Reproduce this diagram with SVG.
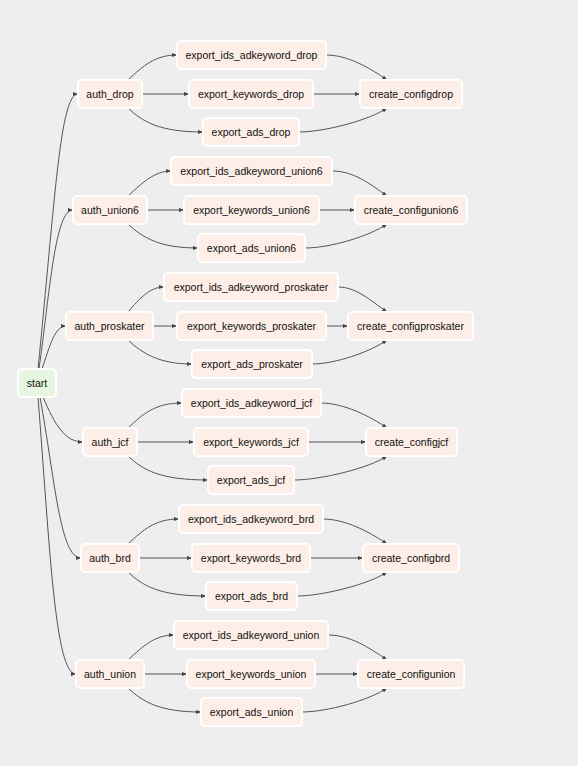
<svg xmlns="http://www.w3.org/2000/svg" width="578" height="766" viewBox="0 0 578 766">
<style>
.n rect{fill:#fdeee7;stroke:#ffffff;stroke-width:2}
.s rect{fill:#e6f6e0;stroke:#ffffff;stroke-width:2}
text{font-family:"Liberation Sans",Arial,sans-serif;font-size:10.5px;fill:#111;text-anchor:middle;dominant-baseline:central}
.e path{fill:none;stroke:#555;stroke-width:1;marker-end:url(#ah)}
</style>
<defs>
<marker id="ah" markerWidth="5" markerHeight="4" refX="5" refY="2" orient="auto" markerUnits="userSpaceOnUse"><path d="M0,0 L5,2 L0,4 z" fill="#444"/></marker>
</defs>
<rect width="578" height="766" fill="#eeeeee"/>
<g class="e" id="connectors">
<!-- start to auth -->
<path d="M38,369 C55,200 60,94 78,94"/>
<path d="M39,369 C50,290 55,210 73,210"/>
<path d="M42,369 C50,345 55,326 66,326"/>
<path d="M43,397 C55,425 65,442 83,442"/>
<path d="M40,397 C55,480 60,558 81,558"/>
<path d="M38,397 C50,550 55,674 76,674"/>
<!-- drop m=94 -->
<path d="M128,80 C143,66 155,55 177,55"/>
<path d="M142,94 L189,94"/>
<path d="M128,108 C143,122 160,132 203,132"/>
<path d="M326,55 C348,55 370,68 387,80"/>
<path d="M313,94 L360,94"/>
<path d="M299,132 C324,132 370,120 387,108"/>
<!-- union6 m=210 -->
<path d="M128,196 C143,182 155,171 171,171"/>
<path d="M147,210 L184,210"/>
<path d="M128,224 C143,238 160,248 198,248"/>
<path d="M332,171 C354,171 370,184 387,196"/>
<path d="M319,210 L355,210"/>
<path d="M305,248 C330,248 370,236 387,224"/>
<!-- proskater m=326 -->
<path d="M128,312 C140,298 150,287 164,287"/>
<path d="M153,326 L177,326"/>
<path d="M128,340 C143,354 160,364 192,364"/>
<path d="M338,287 C356,287 370,300 387,312"/>
<path d="M326,326 L348,326"/>
<path d="M312,364 C335,364 370,352 387,340"/>
<!-- jcf m=442 -->
<path d="M128,428 C143,414 155,403 182,403"/>
<path d="M137,442 L194,442"/>
<path d="M128,456 C143,470 160,480 208,480"/>
<path d="M321,403 C343,403 370,416 387,428"/>
<path d="M308,442 L366,442"/>
<path d="M294,480 C320,480 370,468 387,456"/>
<!-- brd m=558 -->
<path d="M128,544 C143,530 155,519 179,519"/>
<path d="M139,558 L192,558"/>
<path d="M128,572 C143,586 160,596 206,596"/>
<path d="M323,519 C345,519 370,532 387,544"/>
<path d="M310,558 L363,558"/>
<path d="M297,596 C322,596 370,584 387,572"/>
<!-- union m=674 -->
<path d="M128,660 C143,646 155,635 174,635"/>
<path d="M144,674 L187,674"/>
<path d="M128,688 C143,702 160,712 201,712"/>
<path d="M328,635 C350,635 370,648 387,660"/>
<path d="M315,674 L358,674"/>
<path d="M302,712 C327,712 370,700 387,688"/>
</g>
<g class="s" id="start"><rect x="18" y="369" width="38" height="28" rx="4"/><text x="37" y="383">start</text></g>

<g class="n" id="auth_drop"><rect x="78" y="80" width="64" height="28" rx="4"/><text x="110" y="94">auth_drop</text></g>
<g class="n" id="export_ids_adkeyword_drop"><rect x="177" y="41" width="149" height="28" rx="4"/><text x="251.5" y="55">export_ids_adkeyword_drop</text></g>
<g class="n" id="export_keywords_drop"><rect x="189" y="80" width="124" height="28" rx="4"/><text x="251" y="94">export_keywords_drop</text></g>
<g class="n" id="export_ads_drop"><rect x="203" y="118" width="96" height="28" rx="4"/><text x="251" y="132">export_ads_drop</text></g>
<g class="n" id="create_configdrop"><rect x="360" y="80" width="102" height="28" rx="4"/><text x="411" y="94">create_configdrop</text></g>

<g class="n" id="auth_union6"><rect x="73" y="196" width="74" height="28" rx="4"/><text x="110" y="210">auth_union6</text></g>
<g class="n" id="export_ids_adkeyword_union6"><rect x="171" y="157" width="161" height="28" rx="4"/><text x="251.5" y="171">export_ids_adkeyword_union6</text></g>
<g class="n" id="export_keywords_union6"><rect x="184" y="196" width="135" height="28" rx="4"/><text x="251.5" y="210">export_keywords_union6</text></g>
<g class="n" id="export_ads_union6"><rect x="198" y="234" width="107" height="28" rx="4"/><text x="251.5" y="248">export_ads_union6</text></g>
<g class="n" id="create_configunion6"><rect x="355" y="196" width="112" height="28" rx="4"/><text x="411" y="210">create_configunion6</text></g>

<g class="n" id="auth_proskater"><rect x="66" y="312" width="87" height="28" rx="4"/><text x="109.5" y="326">auth_proskater</text></g>
<g class="n" id="export_ids_adkeyword_proskater"><rect x="164" y="273" width="174" height="28" rx="4"/><text x="251" y="287">export_ids_adkeyword_proskater</text></g>
<g class="n" id="export_keywords_proskater"><rect x="177" y="312" width="149" height="28" rx="4"/><text x="251.5" y="326">export_keywords_proskater</text></g>
<g class="n" id="export_ads_proskater"><rect x="192" y="350" width="120" height="28" rx="4"/><text x="252" y="364">export_ads_proskater</text></g>
<g class="n" id="create_configproskater"><rect x="348" y="312" width="125" height="28" rx="4"/><text x="410.5" y="326">create_configproskater</text></g>

<g class="n" id="auth_jcf"><rect x="83" y="428" width="54" height="28" rx="4"/><text x="110" y="442">auth_jcf</text></g>
<g class="n" id="export_ids_adkeyword_jcf"><rect x="182" y="389" width="139" height="28" rx="4"/><text x="251.5" y="403">export_ids_adkeyword_jcf</text></g>
<g class="n" id="export_keywords_jcf"><rect x="194" y="428" width="114" height="28" rx="4"/><text x="251" y="442">export_keywords_jcf</text></g>
<g class="n" id="export_ads_jcf"><rect x="208" y="466" width="86" height="28" rx="4"/><text x="251" y="480">export_ads_jcf</text></g>
<g class="n" id="create_configjcf"><rect x="366" y="428" width="91" height="28" rx="4"/><text x="411.5" y="442">create_configjcf</text></g>

<g class="n" id="auth_brd"><rect x="81" y="544" width="58" height="28" rx="4"/><text x="110" y="558">auth_brd</text></g>
<g class="n" id="export_ids_adkeyword_brd"><rect x="179" y="505" width="144" height="28" rx="4"/><text x="251" y="519">export_ids_adkeyword_brd</text></g>
<g class="n" id="export_keywords_brd"><rect x="192" y="544" width="118" height="28" rx="4"/><text x="251" y="558">export_keywords_brd</text></g>
<g class="n" id="export_ads_brd"><rect x="206" y="582" width="91" height="28" rx="4"/><text x="251.5" y="596">export_ads_brd</text></g>
<g class="n" id="create_configbrd"><rect x="363" y="544" width="96" height="28" rx="4"/><text x="411" y="558">create_configbrd</text></g>

<g class="n" id="auth_union"><rect x="76" y="660" width="68" height="28" rx="4"/><text x="110" y="674">auth_union</text></g>
<g class="n" id="export_ids_adkeyword_union"><rect x="174" y="621" width="154" height="28" rx="4"/><text x="251" y="635">export_ids_adkeyword_union</text></g>
<g class="n" id="export_keywords_union"><rect x="187" y="660" width="128" height="28" rx="4"/><text x="251" y="674">export_keywords_union</text></g>
<g class="n" id="export_ads_union"><rect x="201" y="698" width="101" height="28" rx="4"/><text x="251.5" y="712">export_ads_union</text></g>
<g class="n" id="create_configunion"><rect x="358" y="660" width="106" height="28" rx="4"/><text x="411" y="674">create_configunion</text></g>
</svg>
